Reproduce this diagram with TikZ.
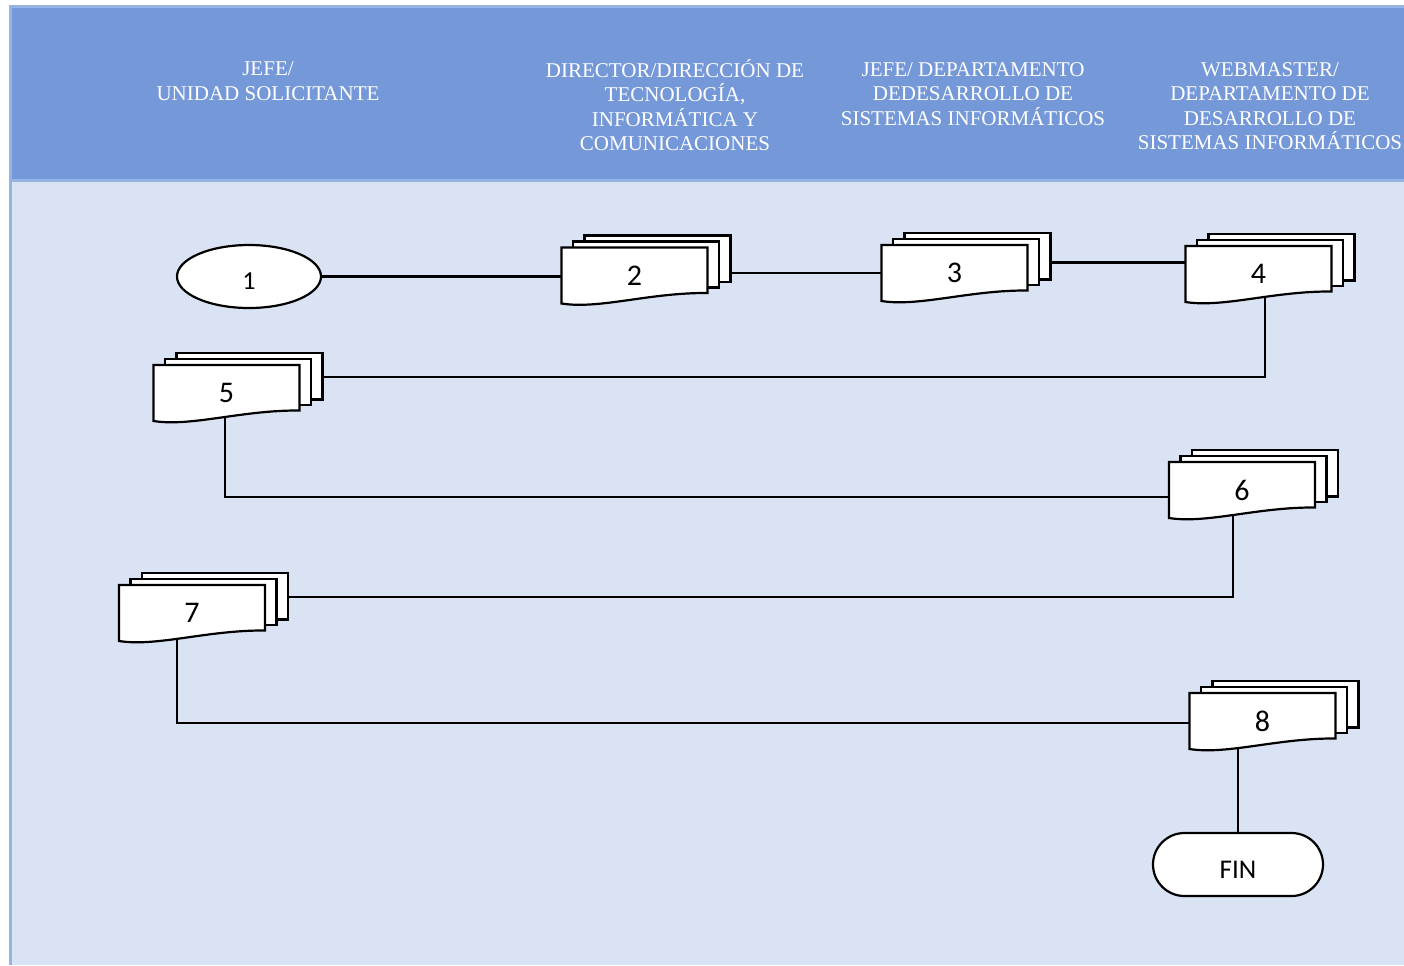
\documentclass[tikz,border=0pt]{standalone}
\usepackage{fontspec}
\setmainfont{Liberation Serif}
\newfontfamily\docfont{Carlito}
\usetikzlibrary{positioning,calc,shapes.geometric}
\definecolor{lanehead}{HTML}{7598D8}
\definecolor{lanebody}{HTML}{DAE3F3}
\definecolor{laneedge}{HTML}{95B3E3}
\pgfdeclarelayer{panel}
\pgfdeclarelayer{lines}
\pgfsetlayers{panel,lines,main}
\tikzset{
    headtext/.style={text=white,align=center,inner sep=0pt,font=\fontsize{10.5pt}{12.25pt}\selectfont},
    page/.style={draw=black,fill=white,line width=1.1pt},
    docnum/.style={minimum width=73pt,minimum height=28pt,inner sep=0pt,font=\docfont\fontsize{15pt}{18pt}\selectfont},
    startnode/.style={ellipse,draw=black,fill=white,line width=1.1pt,minimum width=72pt,minimum height=31.5pt,inner sep=0pt,text height=12.7pt,text depth=0pt,font=\docfont\fontsize{13pt}{15pt}\selectfont},
    endnode/.style={rectangle,rounded corners=15.75pt,draw=black,fill=white,line width=1.1pt,minimum width=85pt,minimum height=31.5pt,inner sep=0pt,text height=14.2pt,text depth=0pt,font=\docfont\fontsize{13.5pt}{16pt}\selectfont},
    flow/.style={draw=black,line width=1.2pt}
}
\newcommand{\docstack}[3]{%
  \foreach \k in {2,1}
    \filldraw[page] ($(#2)+(-73+11.5*\k,-28-6*\k)$) rectangle ($(#2)+(73+11.5*\k,17.5-5.5*\k)$);
  \filldraw[page] ($(#2)+(-73,-28)$) -- ($(#2)+(73,-28)$) -- ($(#2)+(73,17.5)$)
    .. controls ($(#2)+(15,17)$) and ($(#2)+(-35,34)$) .. ($(#2)+(-73,28)$) -- cycle;
  \node[docnum] (#1) at (#2) {#3};
}

\begin{document}
\begin{tikzpicture}[x=0.5pt,y=-0.5pt]
    \useasboundingbox (0,0) rectangle (1404,965);
    \begin{pgfonlayer}{panel}
        \fill[laneedge] (9,5) rectangle (1404,965);
        \fill[lanehead] (12,7.5) rectangle (1404,179);
        \fill[lanebody] (12,182) rectangle (1404,965);
    \end{pgfonlayer}

    \node[headtext] (h1) at (268,81) {JEFE/\\UNIDAD SOLICITANTE};
    \node[headtext] (h2) at (675,105) {DIRECTOR/DIRECCIÓN DE\\TECNOLOGÍA,\\INFORMÁTICA Y\\COMUNICACIONES};
    \node[headtext] (h3) at (973,94) {JEFE/ DEPARTAMENTO\\DEDESARROLLO DE\\SISTEMAS INFORMÁTICOS};
    \node[headtext] (h4) at (1270,106) {WEBMASTER/\\DEPARTAMENTO DE\\DESARROLLO DE\\SISTEMAS INFORMÁTICOS};

    \node[startnode] (n1) at (249,276.5) {1};
    \docstack{d2}{634.5,275.5}{2}
    \docstack{d3}{954.5,273}{3}
    \docstack{d4}{1258.5,274}{4}
    \docstack{d5}{226.5,393}{5}
    \docstack{d6}{1242,490}{6}
    \docstack{d7}{192,613}{7}
    \docstack{d8}{1262.5,721}{8}
    \node[endnode] (fin) at (1238,864.5) {FIN};

    \begin{pgfonlayer}{lines}
        \draw[flow] (n1) -- (n1 -| d2);
        \draw[flow] (d3) -- (d3 -| d2);
        \draw[flow] (d3) |- ([yshift=5.75pt]d4.center);
        \draw[flow] ([xshift=3.25pt]d4.center) |- ([yshift=8pt]d5.center);
        \draw[flow] ([xshift=-0.75pt]d5.center) |- ([yshift=-3.5pt]d6.center);
        \draw[flow] ([xshift=-4.5pt]d6.center) |- ([yshift=8pt]d7.center);
        \draw[flow] ([xshift=-7.5pt]d7.center) |- ([yshift=-1pt]d8.center);
        \draw[flow] (fin) -- (fin |- d8);
    \end{pgfonlayer}
\end{tikzpicture}
\end{document}
